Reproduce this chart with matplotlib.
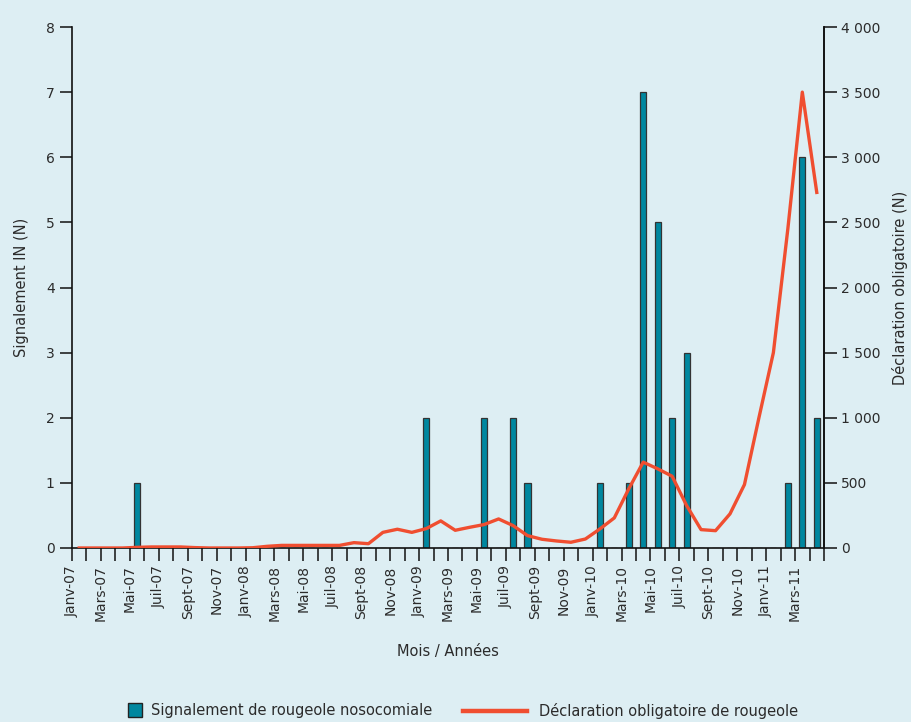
import matplotlib
matplotlib.use("Agg")
import matplotlib.pyplot as plt
from matplotlib.lines import Line2D

MONTHS = ["Janv", "Févr", "Mars", "Avril", "Mai", "Juin",
          "Juil", "Août", "Sept", "Oct", "Nov", "Déc"]
YEARS = ["07", "08", "09", "10", "11"]
# monthly categories, Janv-07 .. Avril-11
categories = [f"{m}-{y}" for y in YEARS for m in MONTHS][:52]

# nosocomial measles reports (left axis)
signalement_in = [0, 0, 0, 0, 1, 0, 0, 0, 0, 0, 0, 0,
                  0, 0, 0, 0, 0, 0, 0, 0, 0, 0, 0, 0,
                  2, 0, 0, 0, 2, 0, 2, 1, 0, 0, 0, 0,
                  1, 0, 1, 7, 5, 2, 3, 0, 0, 0, 0, 0,
                  0, 1, 6, 2]

# mandatory notifications (right axis)
declaration_obl = [0, 0, 0, 0, 5, 8, 8, 8, 3, 0, 0, 0,
                   2, 13, 20, 20, 20, 20, 20, 41, 33, 120, 144, 120,
                   149, 208, 136, 159, 180, 223, 172, 95, 67, 54, 44, 69,
                   146, 231, 454, 659, 608, 551, 326, 141, 133, 262, 487, 1000,
                   1500, 2450, 3500, 2730]

BG = "#ddeef3"
BAR = "#00879f"
LINE = "#f04e30"
INK = "#2b2b2b"

plt.rcParams["font.family"] = ["DejaVu Sans Condensed", "DejaVu Sans"]
plt.rcParams["font.size"] = 10

fig = plt.figure(figsize=(9.11, 7.22), dpi=100, facecolor=BG)
ax = fig.add_axes([0.079, 0.241, 0.8255, 0.7216])
ax.set_facecolor(BG)
ax2 = ax.twinx()

n = len(categories)
xs = [i + 0.5 for i in range(n)]
ax.bar(xs, signalement_in, width=0.42, color=BAR, edgecolor="#333333",
       lw=0.9, zorder=2)
ax2.plot(xs, declaration_obl, color=LINE, lw=2.4, zorder=3)

ax.set_xlim(0, n)
ax.set_ylim(0, 8)
ax2.set_ylim(0, 4000)
ax.set_yticks(range(0, 9))
ax2.set_yticks(range(0, 4001, 500))
ax2.set_yticklabels([f"{v:,}".replace(",", " ") for v in range(0, 4001, 500)])

ax.set_xticks(range(0, n + 1))
ax.set_xticklabels([categories[i] if (i % 2 == 0 and i < n) else ""
                    for i in range(n + 1)], rotation=90)

for a in (ax, ax2):
    a.spines["top"].set_visible(False)
    for s in a.spines.values():
        s.set_color("#111111")
        s.set_linewidth(1.2)
    a.tick_params(colors="#111111", labelcolor=INK, length=9, width=1.1,
                  labelsize=10)
ax2.spines["left"].set_visible(False)
ax2.spines["bottom"].set_visible(False)

ax.set_ylabel("Signalement IN (N)", fontsize=10.5, color=INK, labelpad=12)
ax2.set_ylabel("Déclaration obligatoire (N)", fontsize=10.5, color=INK,
               labelpad=8)
ax.set_xlabel("Mois / Années", fontsize=10.5, color=INK, labelpad=16)

# two legends placed separately so each handle gets its own length
ly = 1 - 711 / 722
sq = Line2D([0], [0], ls="none", marker="s", markersize=10.5,
            markerfacecolor=BAR, markeredgecolor="#222222",
            markeredgewidth=1.0)
ln = Line2D([0], [0], color=LINE, lw=3.2)
fig.legend([sq], ["Signalement de rougeole nosocomiale"],
           loc="center left", bbox_to_anchor=(128 / 911, ly),
           frameon=False, fontsize=10.5, handlelength=1.0, borderpad=0,
           borderaxespad=0, handletextpad=0.6, labelcolor=INK)
fig.legend([ln], ["Déclaration obligatoire de rougeole"],
           loc="center left", bbox_to_anchor=(463 / 911, ly),
           frameon=False, fontsize=10.5, handlelength=4.4, borderpad=0,
           borderaxespad=0, handletextpad=0.8, labelcolor=INK)

fig.savefig("out.png", dpi=100, facecolor=BG)
